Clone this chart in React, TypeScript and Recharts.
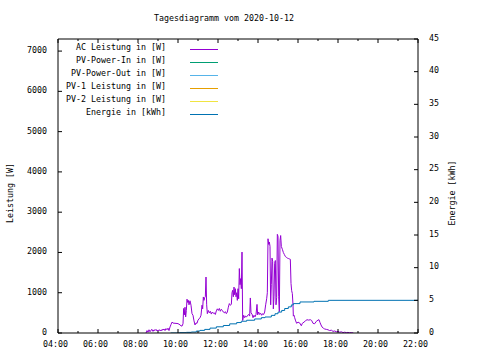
import React from 'react';
import { LineChart, Line, XAxis, YAxis, Legend } from 'recharts';

const FONT = '"DejaVu Sans Mono", "Liberation Mono", monospace';
const FS = 8.3;

const title = 'Tagesdiagramm vom 2020-10-12';
const leftLabel = 'Leistung [W]';
const rightLabel = 'Energie [kWh]';

const seriesNames = [
  'AC Leistung in [W]',
  'PV-Power-In in [W]',
  'PV-Power-Out in [W]',
  'PV-1 Leistung in [W]',
  'PV-2 Leistung in [W]',
  'Energie in [kWh]',
];
const seriesColors = ['#9400d3', '#009e73', '#56b4e9', '#e69f00', '#f0e442', '#0072b2'];

const acTimes = [
  '08:24', '08:27', '08:30', '08:33', '08:36', '08:39', '08:42', '08:45', '08:48', '08:51', '08:54', '08:57',
  '09:00', '09:03', '09:06', '09:09', '09:12', '09:15', '09:18', '09:21', '09:24', '09:27', '09:30', '09:33',
  '09:36', '09:39', '09:42', '09:45', '09:48', '09:51', '09:54', '09:57', '10:00', '10:03', '10:06', '10:09',
  '10:12', '10:15', '10:17', '10:19', '10:21', '10:23', '10:25', '10:27', '10:29', '10:31', '10:33', '10:36',
  '10:39', '10:42', '10:45', '10:48', '10:51', '10:54', '10:57', '11:00', '11:03', '11:06', '11:09', '11:12',
  '11:14', '11:16', '11:18', '11:20', '11:22', '11:24', '11:26', '11:28', '11:31', '11:34', '11:37', '11:40',
  '11:43', '11:46', '11:49', '11:52', '11:55', '11:58', '12:01', '12:04', '12:07', '12:10', '12:13', '12:16',
  '12:19', '12:22', '12:25', '12:28', '12:31', '12:34', '12:37', '12:40', '12:42', '12:44', '12:46', '12:48',
  '12:50', '12:52', '12:54', '12:56', '12:58', '13:00', '13:02', '13:04', '13:06', '13:08', '13:10', '13:12',
  '13:14', '13:17', '13:20', '13:23', '13:26', '13:29', '13:32', '13:35', '13:37', '13:39', '13:42', '13:45',
  '13:48', '13:51', '13:54', '13:57', '13:59', '14:02', '14:05', '14:08', '14:11', '14:14', '14:17', '14:20',
  '14:23', '14:26', '14:28', '14:30', '14:32', '14:34', '14:36', '14:38', '14:40', '14:42', '14:44', '14:46',
  '14:48', '14:50', '14:52', '14:54', '14:56', '14:58', '15:00', '15:02', '15:04', '15:06', '15:08', '15:10',
  '15:13', '15:16', '15:19', '15:22', '15:25', '15:28', '15:31', '15:34', '15:37', '15:39', '15:41', '15:43',
  '15:45', '15:46', '15:48', '15:50', '15:53', '15:56', '16:00', '16:05', '16:10', '16:13', '16:18', '16:22',
  '16:27', '16:32', '16:37', '16:41', '16:45', '16:50', '16:55', '17:00', '17:03', '17:06', '17:09', '17:12',
  '17:16', '17:20', '17:25', '17:30', '17:35', '17:40', '17:45', '17:50', '17:55', '18:00', '18:05', '18:10',
  '18:15', '18:20', '18:25', '18:30', '18:35', '18:40', '18:46',
];
const acWatts = [
  0, 60, 20, 80, 30, 70, 90, 40, 80, 60, 90, 50,
  70, 60, 80, 50, 90, 70, 100, 60, 110, 80, 120, 60,
  150, 210, 270, 250, 240, 245, 235, 240, 230, 220, 200, 180,
  170, 230, 610, 450, 640, 400, 560, 840, 760, 810, 700, 800,
  690, 480, 440, 300, 200, 250, 240, 320, 350, 380, 440, 690,
  600, 895, 810, 880, 900, 1390, 700, 480, 560, 500, 540, 470,
  520, 490, 500, 460, 550, 600, 560, 610, 540, 590, 560, 520,
  500, 530, 480, 520, 640, 730, 690, 710, 1000, 1060, 900, 1140,
  950, 1100, 900, 1000, 810, 1100, 850, 1600, 1200, 1350, 1100, 2010,
  310, 440, 380, 420, 400, 440, 460, 420, 870, 500, 470, 380,
  440, 400, 460, 710, 450, 520, 460, 490, 440, 480, 460, 520,
  700, 850, 1000, 2340, 2200, 2260, 2150, 700, 1200, 1860, 1780, 600,
  900, 1730, 1800, 700, 880, 2450, 2400, 900, 530, 2300, 2420, 2150,
  2080, 2000, 1950, 1900, 1880, 1860, 1850, 1840, 1830, 1230, 1050, 980,
  700, 420, 440, 380, 300, 240, 270, 250, 180, 240, 270, 300,
  330, 320, 330, 310, 240, 230, 290, 320, 330, 260, 200, 150,
  120, 100, 90, 80, 60, 70, 40, 50, 30, 40, 20, 30,
  10, 20, 10, 15, 5, 10, 0,
];

const energyTimes = [
  '09:38', '10:05', '10:25', '10:40', '10:55', '11:06', '11:20', '11:36', '11:55', '12:16', '12:35', '12:56',
  '13:10', '13:26', '13:50', '14:10', '14:21', '14:40', '14:51', '15:00', '15:11', '15:20', '15:31', '15:40',
  '15:46', '16:06', '16:48', '17:31', '22:00',
];
const energyKWh = [
  0, 0.05, 0.1, 0.15, 0.3, 0.4, 0.55, 0.75, 0.95, 1.15, 1.4, 1.6,
  1.8, 1.95, 2.15, 2.35, 2.45, 2.7, 2.95, 3.2, 3.45, 3.75, 4.0, 4.3,
  4.5, 4.75, 4.85, 5.0, 5.0,
];

const hourTicks = [4, 5, 6, 7, 8, 9, 10, 11, 12, 13, 14, 15, 16, 17, 18, 19, 20, 21, 22];
const leftTicks = [0, 1000, 2000, 3000, 4000, 5000, 6000, 7000];
const rightTicks = [0, 5, 10, 15, 20, 25, 30, 35, 40, 45];

const toHours = (s: string) => {
  const [h, m] = s.split(':').map(Number);
  return h + m / 60;
};
const pad = (n: number) => (n < 10 ? '0' + n : '' + n);

const acData = acTimes.map((t, i) => ({ t: toHours(t), v: acWatts[i] }));
const energyData = energyTimes.map((t, i) => ({ t: toHours(t), v: energyKWh[i] }));
const emptyData: { t: number; v: number }[] = [];

const BottomTick = (props: any) => {
  const { x, y, payload } = props;
  const h = payload.value as number;
  const major = h % 2 === 0;
  return (
    <g>
      <line x1={x} y1={y} x2={x} y2={y - (major ? 4 : 2)} stroke="#000" />
      {major && (
        <text x={x - 2.5} y={y + 11} textAnchor="middle" dominantBaseline="central" fontFamily={FONT} fontSize={FS} fill="#000">
          {pad(h) + ':00'}
        </text>
      )}
    </g>
  );
};

const TopTick = (props: any) => {
  const { x, y, payload } = props;
  const major = (payload.value as number) % 2 === 0;
  return <line x1={x} y1={y} x2={x} y2={y + (major ? 4 : 2)} stroke="#000" />;
};

const LeftTick = (props: any) => {
  const { x, y, payload } = props;
  return (
    <g>
      <line x1={x} y1={y} x2={x + 4} y2={y} stroke="#000" />
      <text x={x - 11} y={y - 1} textAnchor="end" dominantBaseline="central" fontFamily={FONT} fontSize={FS} fill="#000">
        {payload.value}
      </text>
    </g>
  );
};

const RightMirrorTick = (props: any) => {
  const { x, y } = props;
  return <line x1={x} y1={y} x2={x - 4} y2={y} stroke="#000" />;
};

const RightTick = (props: any) => {
  const { x, y, payload } = props;
  return (
    <g>
      <line x1={x} y1={y} x2={x - 4} y2={y} stroke="#000" />
      <text x={x + 11} y={y - 1.5} textAnchor="start" dominantBaseline="central" fontFamily={FONT} fontSize={FS} fill="#000">
        {payload.value}
      </text>
    </g>
  );
};

const LegendBox = () => (
  <svg width={480} height={130} style={{ display: 'block' }}>
    {seriesNames.map((n, i) => (
      <g key={n}>
        <text x={166} y={47 + i * 13} textAnchor="end" dominantBaseline="central" fontFamily={FONT} fontSize={FS} fill="#000">
          {n}
        </text>
        <line x1={190} x2={218} y1={49.5 + i * 13} y2={49.5 + i * 13} stroke={seriesColors[i]} strokeWidth={1} />
      </g>
    ))}
  </svg>
);

export default function App() {
  return (
    <div style={{ position: 'absolute', left: 0, top: 0, width: 480, height: 360, background: '#fff' }}>
      <LineChart width={480} height={360} margin={{ top: 38, right: 0, bottom: 0, left: 0 }}>
        <XAxis
          xAxisId="b"
          type="number"
          dataKey="t"
          domain={[4, 22]}
          ticks={hourTicks}
          interval={0}
          orientation="bottom"
          height={27}
          axisLine={{ stroke: '#000' }}
          tickLine={false}
          tickSize={0}
          tickMargin={0}
          tick={<BottomTick />}
          allowDataOverflow
        />
        <XAxis
          xAxisId="top"
          type="number"
          dataKey="t"
          domain={[4, 22]}
          ticks={hourTicks}
          interval={0}
          orientation="top"
          height={1}
          axisLine={{ stroke: '#000' }}
          tickLine={false}
          tickSize={0}
          tickMargin={0}
          tick={<TopTick />}
          allowDataOverflow
        />
        <YAxis
          yAxisId="w"
          type="number"
          domain={[0, 7300]}
          ticks={leftTicks}
          interval={0}
          width={58}
          axisLine={{ stroke: '#000' }}
          tickLine={false}
          tickSize={0}
          tickMargin={0}
          tick={<LeftTick />}
          allowDataOverflow
        />
        <YAxis
          yAxisId="wm"
          orientation="right"
          type="number"
          domain={[0, 7300]}
          ticks={leftTicks}
          interval={0}
          width={0}
          axisLine={false}
          tickLine={false}
          tickSize={0}
          tickMargin={0}
          tick={<RightMirrorTick />}
          allowDataOverflow
        />
        <YAxis
          yAxisId="e"
          orientation="right"
          type="number"
          domain={[0, 45]}
          ticks={rightTicks}
          interval={0}
          width={62}
          axisLine={{ stroke: '#000' }}
          tickLine={false}
          tickSize={0}
          tickMargin={0}
          tick={<RightTick />}
          allowDataOverflow
        />
        <Legend layout="vertical" align="center" verticalAlign="middle" content={<LegendBox />} wrapperStyle={{ position: 'absolute', left: 0, top: 0, width: 480, height: 130 }} />
        {seriesNames.slice(1, 5).map((n, i) => (
          <Line key={n} xAxisId="b" yAxisId="w" data={emptyData} dataKey="v" name={n} stroke={seriesColors[i + 1]} dot={false} isAnimationActive={false} />
        ))}
        <Line xAxisId="b" yAxisId="w" data={acData} dataKey="v" name={seriesNames[0]} type="linear" stroke={seriesColors[0]} strokeWidth={1} dot={false} isAnimationActive={false} />
        <Line xAxisId="b" yAxisId="e" data={energyData} dataKey="v" name={seriesNames[5]} type="stepAfter" stroke={seriesColors[5]} strokeWidth={1} dot={false} isAnimationActive={false} />
        <text x={224} y={18} textAnchor="middle" dominantBaseline="central" fontFamily={FONT} fontSize={FS} fill="#000">
          {title}
        </text>
        <text x={10} y={193} transform="rotate(-90 10 193)" textAnchor="middle" dominantBaseline="central" fontFamily={FONT} fontSize={FS} fill="#000">
          {leftLabel}
        </text>
        <text x={452} y={193} transform="rotate(-90 452 193)" textAnchor="middle" dominantBaseline="central" fontFamily={FONT} fontSize={FS} fill="#000">
          {rightLabel}
        </text>
      </LineChart>
    </div>
  );
}
